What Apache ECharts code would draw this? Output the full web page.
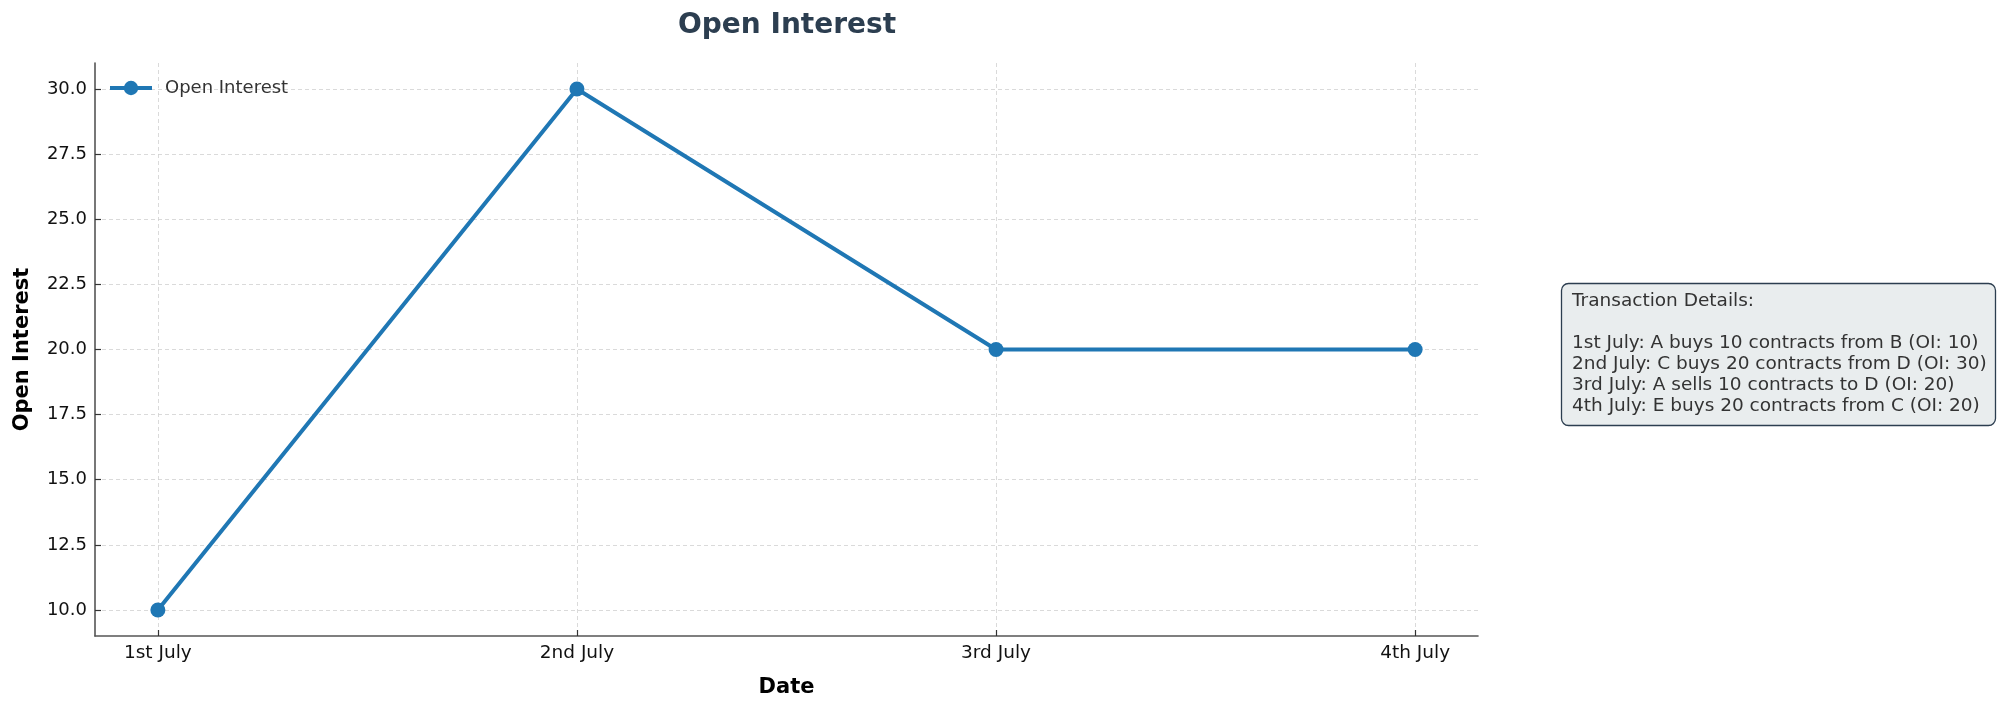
<!DOCTYPE html>
<html>
<head>
<meta charset="utf-8">
<script src="https://cdn.jsdelivr.net/npm/echarts@6/dist/echarts.min.js"></script>
<style>
html,body{margin:0;padding:0;background:#fff;}
#chart{width:1999px;height:709px;}
</style>
</head>
<body>
<div id="chart"></div>
<script>
const dates = ['1st July', '2nd July', '3rd July', '4th July'];
const openInterest = [10, 30, 20, 20];
const yTicks = [10, 12.5, 15, 17.5, 20, 22.5, 25, 27.5, 30];
const xTicks = [0, 1, 2, 3];
const noteLines = [
  'Transaction Details:',
  '',
  '1st July: A buys 10 contracts from B (OI: 10)',
  '2nd July: C buys 20 contracts from D (OI: 30)',
  '3rd July: A sells 10 contracts to D (OI: 20)',
  '4th July: E buys 20 contracts from C (OI: 20)'
];

const FONT = 'DejaVu Sans';
const chart = echarts.init(document.getElementById('chart'), null, {renderer: 'canvas'});
const seriesData = openInterest.map((v, i) => [i, v]);

chart.setOption({
  animation: false,
  backgroundColor: '#ffffff',
  textStyle: {fontFamily: FONT},
  title: [
    {
      text: 'Open Interest',
      left: 782,
      top: 7,
      textAlign: 'center',
      textStyle: {fontFamily: FONT, fontSize: 28, fontWeight: 'bold', color: '#2c3e50'}
    },
    {
      text: noteLines.join('\n'),
      left: 1561,
      top: 283,
      padding: [8, 9, 9, 11],
      backgroundColor: '#e9edee',
      borderColor: '#2c3e50',
      borderWidth: 1.3,
      borderRadius: 7,
      textStyle: {fontFamily: FONT, fontSize: 18.5, fontWeight: 'normal', color: '#333333', lineHeight: 21}
    }
  ],
  legend: {
    left: 108,
    top: 79,
    padding: 0,
    itemWidth: 42,
    itemHeight: 18,
    lineStyle: {width: 4},
    textStyle: {fontFamily: FONT, fontSize: 18, color: '#333333', padding: [0, 0, 0, 8]},
    data: ['Open Interest']
  },
  grid: {left: 95, right: 1999 - 1478, top: 63, bottom: 709 - 636, containLabel: false},
  xAxis: {
    type: 'value',
    min: -0.15,
    max: 3.15,
    name: 'Date',
    nameLocation: 'middle',
    nameGap: 41,
    nameTextStyle: {fontFamily: FONT, fontSize: 21, fontWeight: 'bold', color: '#000'},
    axisLine: {show: true, onZero: false, lineStyle: {color: '#555555', width: 1.6}},
    axisTick: {show: true, inside: true, length: 6, customValues: xTicks, lineStyle: {color: '#333', width: 1.2}},
    axisLabel: {customValues: xTicks, margin: 8, fontFamily: FONT, fontSize: 18.5, color: '#111',
      formatter: v => dates[Math.round(v)]},
    splitLine: {show: true, lineStyle: {color: '#d0d0d0', type: [4, 3], width: 0.8}}
  },
  yAxis: {
    type: 'value',
    min: 9,
    max: 31,
    name: 'Open Interest',
    nameLocation: 'middle',
    nameGap: 62,
    nameTextStyle: {fontFamily: FONT, fontSize: 21, fontWeight: 'bold', color: '#000'},
    axisLine: {show: true, onZero: false, lineStyle: {color: '#555555', width: 1.6}},
    axisTick: {show: true, inside: true, length: 6, customValues: yTicks, lineStyle: {color: '#333', width: 1.2}},
    axisLabel: {customValues: yTicks, margin: 8, fontFamily: FONT, fontSize: 18, color: '#111',
      formatter: v => Number(v).toFixed(1)},
    splitLine: {show: true, lineStyle: {color: '#d0d0d0', type: [4, 3], width: 0.8}}
  },
  series: [{
    name: 'Open Interest',
    type: 'line',
    data: seriesData,
    symbol: 'circle',
    symbolSize: 15,
    lineStyle: {color: '#1f77b4', width: 4},
    itemStyle: {color: '#1f77b4'}
  }]
});
</script>
</body>
</html>
